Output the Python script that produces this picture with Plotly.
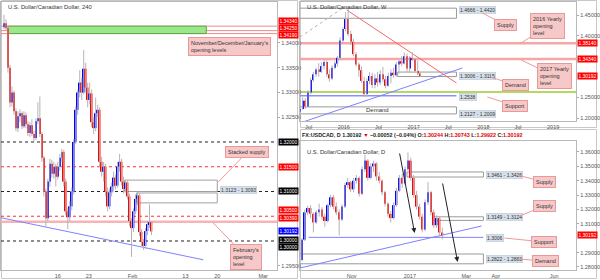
import plotly.graph_objects as go
import pandas as pd

# ------------------------------------------------------------------ DATA
# 4-hour panel (one bar per 8h step, bar numbers 0..74)
h4_open = [1.3432, 1.3440, 1.3430, 1.3350, 1.3280, 1.3300, 1.3262, 1.3228, 1.3252, 1.3258,
           1.3232, 1.3254, 1.3236, 1.3218, 1.3234, 1.3216, 1.3208, 1.3242, 1.3248, 1.3216,
           1.3168, 1.3100, 1.3046, 1.3120, 1.3156, 1.3136, 1.3150, 1.3130, 1.3150, 1.3168,
           1.3180, 1.3120, 1.3060, 1.3048, 1.3070, 1.3100, 1.3200, 1.3265, 1.3300, 1.3320,
           1.3300, 1.3348, 1.3310, 1.3285, 1.3298, 1.3240, 1.3228, 1.3258, 1.3265, 1.3160,
           1.3140, 1.3150, 1.3100, 1.3070, 1.3098, 1.3110, 1.3128, 1.3112, 1.3150, 1.3160,
           1.3120, 1.3105, 1.3118, 1.3090, 1.3040, 1.3026, 1.3060, 1.3085, 1.3092, 1.3018,
           1.2998, 1.2990, 1.3020, 1.3034, 1.3038]
h4_high = [1.3457, 1.3448, 1.3436, 1.3356, 1.3312, 1.3304, 1.3268, 1.3262, 1.3266, 1.3262,
           1.3262, 1.3260, 1.3242, 1.3240, 1.3246, 1.3222, 1.3248, 1.3280, 1.3292, 1.3220,
           1.3172, 1.3106, 1.3126, 1.3166, 1.3164, 1.3160, 1.3156, 1.3160, 1.3176, 1.3186,
           1.3184, 1.3126, 1.3066, 1.3080, 1.3108, 1.3206, 1.3272, 1.3306, 1.3345, 1.3330,
           1.3386, 1.3360, 1.3320, 1.3320, 1.3306, 1.3250, 1.3290, 1.3275, 1.3270, 1.3170,
           1.3160, 1.3156, 1.3108, 1.3106, 1.3118, 1.3140, 1.3134, 1.3160, 1.3176, 1.3166,
           1.3130, 1.3124, 1.3122, 1.3096, 1.3046, 1.3066, 1.3094, 1.3100, 1.3096, 1.3024,
           1.3004, 1.3026, 1.3040, 1.3074, 1.3040]
h4_low = [1.3428, 1.3425, 1.3340, 1.3270, 1.3272, 1.3255, 1.3222, 1.3220, 1.3240, 1.3226,
          1.3228, 1.3228, 1.3212, 1.3210, 1.3212, 1.3200, 1.3204, 1.3236, 1.3210, 1.3160,
          1.3090, 1.3028, 1.3040, 1.3110, 1.3128, 1.3126, 1.3110, 1.3124, 1.3142, 1.3160,
          1.3110, 1.3052, 1.3024, 1.3040, 1.3062, 1.3094, 1.3196, 1.3255, 1.3290, 1.3285,
          1.3296, 1.3300, 1.3270, 1.3276, 1.3230, 1.3216, 1.3222, 1.3250, 1.3150, 1.3130,
          1.3120, 1.3090, 1.3060, 1.3064, 1.3090, 1.3100, 1.3104, 1.3108, 1.3140, 1.3112,
          1.3096, 1.3098, 1.3084, 1.3030, 1.2968, 1.3018, 1.3054, 1.3072, 1.3010, 1.2990,
          1.2982, 1.2984, 1.3012, 1.3026, 1.3012]
h4_close = [1.3440, 1.3430, 1.3350, 1.3280, 1.3300, 1.3262, 1.3228, 1.3252, 1.3258, 1.3232,
            1.3254, 1.3236, 1.3218, 1.3234, 1.3216, 1.3208, 1.3242, 1.3248, 1.3216, 1.3168,
            1.3100, 1.3046, 1.3120, 1.3156, 1.3136, 1.3150, 1.3130, 1.3150, 1.3168, 1.3180,
            1.3120, 1.3060, 1.3048, 1.3070, 1.3100, 1.3200, 1.3265, 1.3300, 1.3320, 1.3300,
            1.3348, 1.3310, 1.3285, 1.3298, 1.3240, 1.3228, 1.3258, 1.3265, 1.3160, 1.3140,
            1.3150, 1.3100, 1.3070, 1.3098, 1.3110, 1.3128, 1.3112, 1.3150, 1.3160, 1.3120,
            1.3105, 1.3118, 1.3090, 1.3040, 1.3026, 1.3060, 1.3085, 1.3092, 1.3018, 1.2998,
            1.2990, 1.3020, 1.3034, 1.3038, 1.30192]
h4_bar = list(range(len(h4_close)))
h4_tick_bars = [27, 42.5, 64.5, 91, 107, 130]
h4_tick_text = ["16", "23", "Feb", "13", "20", "Mar"]
h4_price_ticks = [1.295, 1.325, 1.330, 1.335, 1.340]

# weekly panel (two-week candles)
w_dates = pd.date_range("2015-05-17", periods=46, freq="14D").strftime("%Y-%m-%d").tolist()
w_open = [1.2150, 1.2220, 1.2420, 1.2280, 1.2620, 1.2920, 1.3060, 1.3180, 1.3120, 1.3260,
          1.3360, 1.3060, 1.2960, 1.3220, 1.3320, 1.3460, 1.3880, 1.4160, 1.4400, 1.4040,
          1.3850, 1.3550, 1.3300, 1.3160, 1.2900, 1.2580, 1.2900, 1.3020, 1.2800, 1.2960,
          1.2860, 1.3060, 1.2940, 1.2780, 1.3020, 1.3100, 1.3040, 1.3300, 1.3380, 1.3320,
          1.3500, 1.3200, 1.3460, 1.3420, 1.3140, 1.3080]
w_high = [1.2260, 1.2500, 1.2480, 1.2680, 1.2980, 1.3120, 1.3220, 1.3330, 1.3350, 1.3420,
          1.3400, 1.3180, 1.3280, 1.3380, 1.3500, 1.3960, 1.4200, 1.4570, 1.4660, 1.4120,
          1.3920, 1.3600, 1.3350, 1.3250, 1.3000, 1.2960, 1.3120, 1.3100, 1.3060, 1.3120,
          1.3160, 1.3240, 1.3020, 1.3100, 1.3180, 1.3220, 1.3360, 1.3400, 1.3500, 1.3590,
          1.3560, 1.3500, 1.3598, 1.3440, 1.3390, 1.3108]
w_low = [1.2030, 1.2200, 1.2220, 1.2260, 1.2580, 1.2880, 1.3000, 1.3000, 1.3090, 1.3180,
         1.3000, 1.2880, 1.2920, 1.3180, 1.3250, 1.3400, 1.3820, 1.4100, 1.3980, 1.3780,
         1.3500, 1.3250, 1.3000, 1.2850, 1.2510, 1.2520, 1.2820, 1.2720, 1.2720, 1.2760,
         1.2800, 1.2880, 1.2720, 1.2760, 1.2840, 1.2980, 1.3000, 1.3080, 1.3260, 1.3300,
         1.3120, 1.3100, 1.3380, 1.3100, 1.3040, 1.2992]
w_close = [1.2220, 1.2420, 1.2280, 1.2620, 1.2920, 1.3060, 1.3180, 1.3120, 1.3260, 1.3360,
           1.3060, 1.2960, 1.3220, 1.3320, 1.3460, 1.3880, 1.4160, 1.4400, 1.4040, 1.3850,
           1.3550, 1.3300, 1.3160, 1.2900, 1.2580, 1.2900, 1.3020, 1.2800, 1.2960, 1.2860,
           1.3060, 1.2940, 1.2780, 1.3020, 1.3100, 1.3040, 1.3300, 1.3380, 1.3320, 1.3500,
           1.3200, 1.3460, 1.3420, 1.3140, 1.3080, 1.30192]
w_tick_dates = ["2015-07-01", "2016-01-01", "2016-07-01", "2017-01-01",
                "2017-07-01", "2018-01-01", "2018-07-01", "2019-01-01"]
w_tick_text = ["Jul", "2016", "Jul", "2017", "Jul", "2018", "Jul", "2019"]
w_price_ticks = [1.20, 1.25, 1.40, 1.45]

# daily panel (three-day candles)
d_dates = pd.date_range("2016-09-10", periods=50, freq="3D").strftime("%Y-%m-%d").tolist()
d_open = [1.2848, 1.2990, 1.3180, 1.3210, 1.3170, 1.3110, 1.3180, 1.3200, 1.3150, 1.3120,
          1.3230, 1.3285, 1.3220, 1.3180, 1.3130, 1.3220, 1.3370, 1.3390, 1.3340, 1.3400,
          1.3420, 1.3310, 1.3480, 1.3540, 1.3420, 1.3500, 1.3520, 1.3430, 1.3400, 1.3320,
          1.3240, 1.3170, 1.3140, 1.3230, 1.3330, 1.3420, 1.3380, 1.3480, 1.3540, 1.3420,
          1.3300, 1.3220, 1.3150, 1.3060, 1.3250, 1.3320, 1.3180, 1.3090, 1.3140, 1.3040]
d_high = [1.3000, 1.3200, 1.3225, 1.3230, 1.3180, 1.3195, 1.3240, 1.3215, 1.3170, 1.3240,
          1.3300, 1.3300, 1.3250, 1.3200, 1.3235, 1.3385, 1.3420, 1.3400, 1.3420, 1.3440,
          1.3430, 1.3500, 1.3580, 1.3550, 1.3520, 1.3540, 1.3530, 1.3460, 1.3410, 1.3330,
          1.3250, 1.3190, 1.3250, 1.3350, 1.3440, 1.3450, 1.3500, 1.3598, 1.3560, 1.3440,
          1.3330, 1.3240, 1.3170, 1.3270, 1.3390, 1.3330, 1.3200, 1.3160, 1.3150, 1.30743]
d_low = [1.2840, 1.2980, 1.3160, 1.3140, 1.3040, 1.3100, 1.3150, 1.3130, 1.3080, 1.3110,
         1.3215, 1.3200, 1.3160, 1.3020, 1.3120, 1.3210, 1.3350, 1.3320, 1.3320, 1.3380,
         1.3290, 1.3300, 1.3460, 1.3400, 1.3410, 1.3460, 1.3400, 1.3380, 1.3300, 1.3220,
         1.3150, 1.3110, 1.3130, 1.3220, 1.3320, 1.3350, 1.3370, 1.3470, 1.3400, 1.3280,
         1.3200, 1.3130, 1.3040, 1.3050, 1.3230, 1.3160, 1.3070, 1.3070, 1.3010, 1.29922]
d_close = [1.2990, 1.3180, 1.3210, 1.3170, 1.3110, 1.3180, 1.3200, 1.3150, 1.3120, 1.3230,
           1.3285, 1.3220, 1.3180, 1.3130, 1.3220, 1.3370, 1.3390, 1.3340, 1.3400, 1.3420,
           1.3310, 1.3480, 1.3540, 1.3420, 1.3500, 1.3520, 1.3430, 1.3400, 1.3320, 1.3240,
           1.3170, 1.3140, 1.3230, 1.3330, 1.3420, 1.3380, 1.3480, 1.3540, 1.3420, 1.3300,
           1.3220, 1.3150, 1.3060, 1.3250, 1.3320, 1.3180, 1.3090, 1.3140, 1.3040, 1.30192]
d_tick_dates = ["2016-11-01", "2017-01-01", "2017-03-01", "2017-04-01", "2017-06-01"]
d_tick_text = ["Nov", "2017", "Mar", "Apr", "Jun"]
d_price_ticks = [1.28, 1.29, 1.31, 1.32, 1.33, 1.34, 1.35, 1.36]

# key levels
last_price = 1.30192
h4_month_opens = [1.3434, 1.3425, 1.3419]
h4_black_levels = [1.3200, 1.3100, 1.3000]
h4_red_levels = [1.3150, 1.3050]
h4_feb_open = 1.3039
h4_stacked = [(1.3100, 1.3123), (1.3077, 1.3097)]
w_supply = (1.4420, 1.4666)
w_demand = (1.3006, 1.3115)
w_demand_low = (1.2100, 1.2270)
w_support = 1.2538
w_green = 1.2630
w_year_opens = [1.3814, 1.3434]
d_supply_hi = (1.3426, 1.3461)
d_supply_lo = (1.3124, 1.3149)
d_support = 1.3006
d_demand = (1.2822, 1.2890)

# ------------------------------------------------------------------ FIGURE
UP, DN, WICK = "#0000ff", "#ff0000", "#b4b4b4"
FONT = "Arial, Liberation Sans, sans-serif"
fig = go.Figure()


def candles(x, o, h, l, c, xa, ya, width, min_body):
    wx, wy = [], []
    for xi, hi, li in zip(x, h, l):
        wx += [xi, xi, None]
        wy += [li, hi, None]
    fig.add_trace(go.Scatter(x=wx, y=wy, mode="lines", line=dict(color=WICK, width=1),
                             xaxis=xa, yaxis=ya, hoverinfo="skip", showlegend=False))
    base = [min(a, b) for a, b in zip(o, c)]
    size = [max(abs(b - a), min_body) for a, b in zip(o, c)]
    cols = [UP if b >= a else DN for a, b in zip(o, c)]
    fig.add_trace(go.Bar(x=x, y=size, base=base, width=width,
                         marker=dict(color=cols, line=dict(width=0)),
                         xaxis=xa, yaxis=ya, hoverinfo="skip", showlegend=False))


DAY = 86400000
candles(h4_bar, h4_open, h4_high, h4_low, h4_close, "x", "y", 0.8, 0.0002)
candles(w_dates, w_open, w_high, w_low, w_close, "x2", "y2", 7 * DAY, 0.002)
candles(d_dates, d_open, d_high, d_low, d_close, "x3", "y3", 1.8 * DAY, 0.0006)


def P(px):
    return px / 600.0


def Q(py):
    return 1 - py / 280.0


ax_common = dict(showgrid=False, zeroline=False, showline=True, mirror=True,
                 linecolor="#b8b8b8", linewidth=1, fixedrange=True,
                 tickfont=dict(size=5.5, color="#555", family=FONT))
y_common = dict(side="right", tickformat=".5f", ticks="outside", ticklen=2,
                tickcolor="#aaa", tickmode="array")

fig.update_layout(
    width=600, height=280, margin=dict(l=0, r=0, t=0, b=0),
    paper_bgcolor="white", plot_bgcolor="white", barmode="overlay",
    showlegend=False, font=dict(family=FONT),
    xaxis=dict(domain=[0, P(277)], range=[-1.5, 137], anchor="y", tickmode="array",
               tickvals=h4_tick_bars, ticktext=h4_tick_text, ticks="", **ax_common),
    yaxis=dict(domain=[Q(270), Q(2)], range=[1.29414, 1.34828], anchor="x",
               tickvals=h4_price_ticks, **y_common, **ax_common),
    xaxis2=dict(domain=[P(300), P(577)], type="date", range=["2015-05-17", "2019-05-01"],
                anchor="y2", tickmode="array", tickvals=w_tick_dates, ticktext=w_tick_text,
                ticks="", **ax_common),
    yaxis2=dict(domain=[Q(121), Q(2)], range=[1.19272, 1.48155], anchor="x2",
                tickvals=w_price_ticks, **y_common, **ax_common),
    xaxis3=dict(domain=[P(300), P(577)], type="date", range=["2016-09-08", "2017-06-24"],
                anchor="y3", tickmode="array", tickvals=d_tick_dates, ticktext=d_tick_text,
                ticks="", **ax_common),
    yaxis3=dict(domain=[Q(270), Q(141)], range=[1.27789, 1.36765], anchor="x3",
                tickvals=d_price_ticks, **y_common, **ax_common),
)

shapes = []


def hline(y, ax, color, width, dash="solid", layer="below"):
    shapes.append(dict(type="line", xref=ax[0] + " domain", x0=0, x1=1, yref=ax[1],
                       y0=y, y1=y, line=dict(color=color, width=width, dash=dash), layer=layer))


def seg(x0, y0, x1, y1, ax, color, width, dash="solid", layer="below"):
    shapes.append(dict(type="line", xref=ax[0], yref=ax[1], x0=x0, y0=y0, x1=x1, y1=y1,
                       line=dict(color=color, width=width, dash=dash), layer=layer))


def box(x0, x1, lohi, ax, line="#9a9a9a", fill="rgba(0,0,0,0)", width=1, layer="below"):
    shapes.append(dict(type="rect", xref=ax[0], yref=ax[1], x0=x0, x1=x1, y0=lohi[0],
                       y1=lohi[1], line=dict(color=line, width=width), fillcolor=fill,
                       layer=layer))


# panel frames
for (a, b, c, d) in [(0, 0, 298, 279), (300, 0, 598, 128), (300, 129, 598, 279)]:
    shapes.append(dict(type="rect", xref="paper", yref="paper", x0=P(a + 0.5), x1=P(c - 0.5),
                       y0=Q(d - 0.5), y1=Q(b + 0.5), line=dict(color="#c8c8c8", width=1),
                       layer="below"))

L = ("x", "y")
TR = ("x2", "y2")
BR = ("x3", "y3")

# ---- left panel
box(2, 101.5, (h4_month_opens[2], h4_month_opens[0]), L, line="#5aa64a",
    fill="#9ae88a", layer="below")
for v in h4_month_opens:
    hline(v, L, "#f08a8a", 1)
hline(h4_feb_open, L, "#f7b4b4", 2.5)
for v in h4_black_levels:
    hline(v, L, "#222222", 1, dash="dot")
for v in h4_red_levels:
    hline(v, L, "#ff3030", 1, dash="dot")
box(60.5, 107, h4_stacked[0], L, line="#a0a0a0", fill="white")
box(66.5, 107, h4_stacked[1], L, line="#a0a0a0", fill="white")
seg(-1.5, 1.3047, 100, 1.2962, L, "#8080ff", 1)

# ---- weekly panel
box("2015-05-17", "2017-08-13", w_supply, TR, line="#9a9a9a", fill="white")
box("2016-10-09", "2017-08-13", w_demand, TR, line="#9a9a9a", fill="white")
box("2015-05-17", "2017-08-13", w_demand_low, TR, line="#9a9a9a", fill="white")
for v in w_year_opens:
    hline(v, TR, "#f6a6a6", 2.5)
hline(w_green, TR, "#9acd32", 1.5)
seg("2015-05-17", w_support, "2017-08-13", w_support, TR, "#8c8cff", 1.5)
seg("2016-01-17", 1.4621, "2017-08-13", 1.2850, TR, "#f06a6a", 1)
seg("2015-05-17", 1.1879, "2017-09-13", 1.3214, TR, "#7f7fff", 1)
seg("2015-05-17", 1.3966, "2015-12-27", 1.4670, TR, "#b0b0b0", 1, dash="dot")

# ---- daily panel
box("2016-12-29", "2017-03-19", d_supply_hi, BR, line="#9a9a9a", fill="white")
box("2017-01-25", "2017-03-19", d_supply_lo, BR, line="#9a9a9a", fill="white")
box("2016-09-08", "2017-03-19", d_demand, BR, line="#9a9a9a", fill="white")
seg("2016-09-17", d_support, "2017-03-19", d_support, BR, "#8080ff", 1)
seg("2016-09-08", 1.2793, "2017-03-17", 1.3085, BR, "#7f7fff", 1)

fig.update_layout(shapes=shapes)

ann = []
# titles
for txt, px, py in [("U.S. Dollar/Canadian Dollar, 240", 5, 7),
                    ("U.S. Dollar/Canadian Dollar, W", 305, 7),
                    ("U.S. Dollar/Canadian Dollar, D", 305, 152)]:
    ann.append(dict(text=txt, xref="paper", yref="paper", x=P(px), y=Q(py), xanchor="left",
                    yanchor="middle", showarrow=False, font=dict(size=5.8, color="#333")))

RED = "#e00000"
info = ("<b>FX:USDCAD, D 1.30192 <span style='color:%s'>▼</span> −0.00052 (−0.04%%) "
        "O:<span style='color:%s'>1.30244</span> H:<span style='color:%s'>1.30743</span> "
        "L:<span style='color:%s'>1.29922</span> C:<span style='color:%s'>1.30192</span></b>"
        % (RED, RED, RED, RED, RED))
ann.append(dict(text=info, xref="paper", yref="paper", x=P(300), y=Q(135), xanchor="left",
                yanchor="middle", showarrow=False, font=dict(size=5.4, color="#222")))

# right-axis price labels
price_tags = [
    ("1.34340", 1.3434, "#ff0000", 5.5, L), ("1.34250", 1.3425, "#ff0000", 3, L),
    ("1.34190", 1.3419, "#ff0000", -1, L), ("1.32000", 1.3200, "#000000", 0, L),
    ("1.31500", 1.3150, "#ff0000", 0, L), ("1.31000", 1.3100, "#000000", 0, L),
    ("1.30500", 1.3050, "#ff0000", 6, L), ("1.30390", 1.3039, "#ff0000", 4, L),
    ("1.30192", last_price, "#0000ff", 0, L), ("1.30000", 1.3000, "#000000", 1, L),
    ("1.30000", 1.3000, "#000000", -6, L),
    ("1.38140", 1.3814, "#ff0000", 0, TR), ("1.34340", 1.3434, "#ff0000", 0, TR),
    ("1.30192", last_price, "#ff0000", 0, TR), ("1.30192", last_price, "#ff0000", 0, BR),
]
for txt, v, col, sh, ax in price_tags:
    ann.append(dict(text=txt, xref=ax[0] + " domain", x=1, xanchor="left", xshift=1,
                    yref=ax[1], y=v, yshift=sh, yanchor="middle", showarrow=False,
                    bgcolor=col, borderpad=0.5, font=dict(size=4.9, color="white")))

# zone value tags
zone_tags = [("1.3123 - 1.3093", 220, 190), ("1.4666 - 1.4420", 460, 10),
             ("1.3006 - 1.3115", 460, 76), ("1.2538", 460, 97),
             ("1.2127 - 1.2009", 460, 114), ("1.3461 - 1.3426", 487, 175),
             ("1.3149 - 1.3124", 487, 217), ("1.3006", 487, 238),
             ("1.2822 - 1.2883", 487, 259)]
for txt, px, py in zone_tags:
    ann.append(dict(text=txt, xref="paper", yref="paper", x=P(px), y=Q(py), xanchor="left",
                    yanchor="middle", showarrow=False, bgcolor="#d6e0ea",
                    bordercolor="#b8c4d0", borderwidth=0.5, borderpad=0.5,
                    font=dict(size=5, color="#333")))

ann.append(dict(text="Demand", xref="paper", yref="paper", x=P(378), y=Q(110),
                showarrow=False, font=dict(size=6, color="#333")))

# callouts (box centre, pointed spot, text)
callouts = [
    ("November/December/January's<br>opening levels", (229, 46), (183, 32), "left"),
    ("Stacked supply", (247, 152), (218, 182), "center"),
    ("February's<br>opening<br>level", (246, 257), (212, 222), "left"),
    ("Supply", (506, 25), (483, 13), "center"),
    ("2016 Yearly<br>opening<br>level", (548, 26), (522, 43), "left"),
    ("2017 Yearly<br>opening<br>level", (555, 76), (522, 60), "left"),
    ("Demand", (516, 85), (491, 77), "center"),
    ("Support", (516, 106), (488, 97), "center"),
    ("Supply", (545, 182), (518, 175), "center"),
    ("Supply", (545, 206), (518, 217), "center"),
    ("Support", (545, 242), (505, 238), "center"),
    ("Demand", (546, 261), (518, 259), "center"),
]
for txt, (bx, by), (tx, ty), al in callouts:
    ann.append(dict(text=txt, xref="paper", yref="paper", x=P(tx), y=Q(ty),
                    ax=bx - tx, ay=by - ty, showarrow=True, arrowhead=0, arrowwidth=1,
                    arrowcolor="#ee9a9a", align=al, bgcolor="#f7c8c8",
                    bordercolor="#e89a9a", borderwidth=1, borderpad=2,
                    font=dict(size=5.5, color="#333")))

# black arrows on daily panel
for (tx, ty, hx, hy) in [("2016-12-21", 1.3600, "2017-01-06", 1.3036),
                         ("2017-02-04", 1.3391, "2017-02-20", 1.2835)]:
    ann.append(dict(x=hx, y=hy, xref="x3", yref="y3", ax=tx, ay=ty, axref="x3",
                    ayref="y3", showarrow=True, arrowhead=2, arrowsize=1, arrowwidth=1,
                    arrowcolor="#222", text=""))

fig.update_layout(annotations=ann)
fig.write_html("out.html")
